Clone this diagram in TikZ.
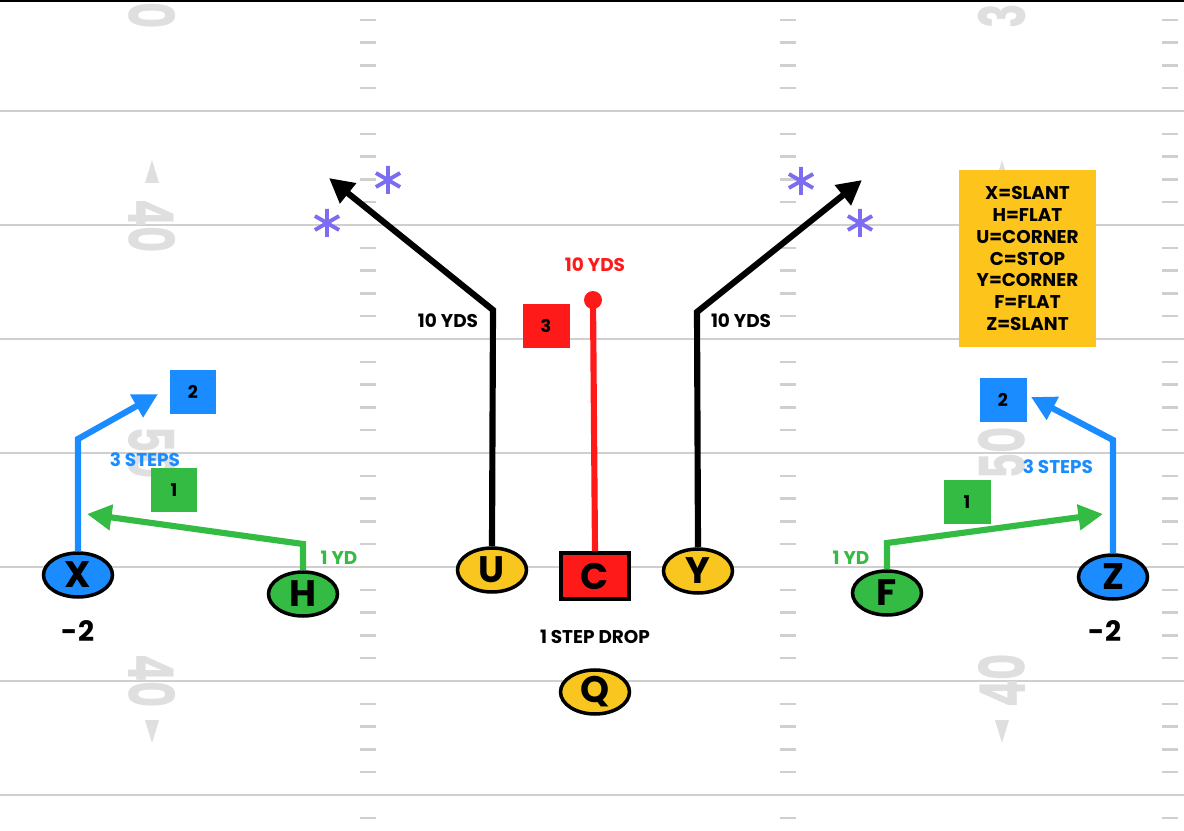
\documentclass[tikz,border=0pt]{standalone}
\usepackage{fontspec}
\setmainfont{Poppins}
\usetikzlibrary{shapes.geometric,arrows.meta,calc}
\definecolor{fieldgray}{HTML}{CFCFCF}
\definecolor{numgray}{HTML}{DFDFDF}
\definecolor{playblue}{HTML}{1A8CFF}
\definecolor{playgreen}{HTML}{33BB44}
\definecolor{playyellow}{HTML}{F8C61E}
\definecolor{playred}{HTML}{FF1A1A}
\definecolor{starpurple}{HTML}{7B6CF0}
\definecolor{keyyellow}{HTML}{FDC41C}
\newcommand{\yardline}[1]{\draw[fieldgray, line width=1.2pt] (0,#1) -- (1184,#1);}
\newcommand{\hashcol}[1]{\foreach \j in {-4,...,31}{\pgfmathtruncatemacro{\m}{mod(\j+5,5)}\ifnum\m=0\else\draw[fieldgray, line width=1.3pt] (#1-8,111+22.8*\j) -- (#1+8,111+22.8*\j);\fi}}
\newcommand{\yardnum}[4]{\node[numgray, rotate=#4, inner sep=0, font=\fontsize{36}{36}\selectfont\bfseries] at (#1,#2) {\scalebox{0.64}[1]{#3}};}
\newcommand{\uparr}[2]{\fill[numgray] (#1,#2) -- (#1-7,#2+23) -- (#1+7,#2+23) -- cycle;}
\newcommand{\downarr}[2]{\fill[numgray] (#1,#2+23) -- (#1-7,#2) -- (#1+7,#2) -- cycle;}
\tikzset{
  player/.style={ellipse, draw=black, line width=2pt, minimum width=1.38cm, minimum height=0.88cm, inner sep=0pt, font=\fontsize{21}{21}\selectfont\bfseries},
  snapbox/.style={rectangle, draw=black, line width=2.2pt, fill=playred, minimum width=1.36cm, minimum height=0.92cm, inner sep=0pt, font=\fontsize{21}{21}\selectfont\bfseries},
  numbox/.style={rectangle, minimum width=0.94cm, minimum height=0.9cm, inner sep=0pt, font=\fontsize{10}{10}\selectfont\bfseries},
  lbl/.style={inner sep=1pt, font=\fontsize{10.5}{12}\selectfont\bfseries},
  route/.style={line width=3.5pt},
  tip/.style={-{Triangle[length=14pt,width=14pt]}},
  burst/.pic={\draw[starpurple, line width=2.2pt] (0,-14) -- (0,14) (-12.1,-7) -- (12.1,7) (-12.1,7) -- (12.1,-7);}
}
\begin{document}
\begin{tikzpicture}[x=0.02cm, y=-0.02cm]
  \clip (0,0) rectangle (1184,831);
  \fill[white] (0,0) rectangle (1184,831);
  % yard lines
  \yardline{111}
  \yardline{225}
  \yardline{339}
  \yardline{453}
  \yardline{567}
  \yardline{681}
  \yardline{795}
  % hash marks
  \hashcol{368}
  \hashcol{788}
  \hashcol{1170}
  \draw[black, line width=2.4pt] (0,0) -- (1184,0);
  % numbers, left side
  \yardnum{152}{16}{0}{-90}
  \yardnum{152}{226}{40}{-90}
  \uparr{152}{160}
  \yardnum{152}{453}{50}{-90}
  \yardnum{152}{681}{40}{-90}
  \downarr{152}{720}
  % numbers, right side
  \yardnum{1002}{16}{3}{90}
  \yardnum{1002}{226}{40}{90}
  \uparr{1002}{160}
  \yardnum{1002}{453}{50}{90}
  \yardnum{1002}{681}{40}{90}
  \downarr{1002}{720}

  % players
  \node[player, fill=playblue] (X) at (78,575) {X};
  \node[player, fill=playgreen] (H) at (303,594) {H};
  \node[player, fill=playyellow] (U) at (492,570) {U};
  \node[snapbox] (C) at (595,576) {C};
  \node[player, fill=playyellow] (Y) at (698,571) {Y};
  \node[player, fill=playgreen] (F) at (887,593) {F};
  \node[player, fill=playblue] (Z) at (1113,577) {Z};
  \node[player, fill=playyellow] (Q) at (595,692) {Q};

  % route points
  \coordinate (xbend) at (78,439);
  \coordinate (xtip) at (158,394);
  \coordinate (hbend) at (303,544);
  \coordinate (htip) at (87,514);
  \coordinate (ubend) at (493,310);
  \coordinate (utip) at (329,178);
  \coordinate (ybend) at (697,312);
  \coordinate (ytip) at (862,180);
  \coordinate (fbend) at (887,543);
  \coordinate (ftip) at (1103,514);
  \coordinate (zbend) at (1113,440);
  \coordinate (ztip) at (1031,397);

  % routes
  \draw[route, playblue, tip] (X.north) -- (xbend) -- (xtip);
  \draw[route, playgreen, tip] (H.north) -- (hbend) -- (htip);
  \draw[route, black, tip] (U.north) -- (ubend) -- (utip);
  \node[circle, fill=playred, minimum size=0.36cm, inner sep=0pt] (cdot) at (593,300) {};
  \draw[route, playred] (C.north) -- (cdot.center);
  \draw[route, black, tip] (Y.north) -- (ybend) -- (ytip);
  \draw[route, playgreen, tip] (F.north) -- (fbend) -- (ftip);
  \draw[route, playblue, tip] (Z.north) -- (zbend) -- (ztip);

  % read order
  \node[numbox, fill=playblue] (xtwo) at (193,392) {2};
  \node[numbox, fill=playgreen] (hone) at (174,490) {1};
  \node[numbox, fill=playred] (cthree) at (546,326) {3};
  \node[numbox, fill=playgreen] (fone) at (967,502) {1};
  \node[numbox, fill=playblue] (ztwo) at (1003,400) {2};

  % labels
  \node[lbl, playblue] (xsteps) at (145,460) {3 STEPS};
  \node[lbl, playblue] (zsteps) at (1058,467) {3 STEPS};
  \node[lbl, playgreen] (hyd) at (339,558) {1 YD};
  \node[lbl, playgreen] (fyd) at (851,558) {1 YD};
  \node[lbl] (uyds) at (448,321) {10 YDS};
  \node[lbl] (yyds) at (741,321) {10 YDS};
  \node[lbl, playred] (cyds) at (595,265) {10 YDS};
  \node[lbl] (qdrop) at (595,637) {1 STEP DROP};
  \node[inner sep=1pt, font=\fontsize{16}{16}\selectfont\bfseries] (xsplit) at (78,631) {-2};
  \node[inner sep=1pt, font=\fontsize{16}{16}\selectfont\bfseries] (zsplit) at (1105,631) {-2};

  % defenders
  \pic at (388,180) {burst};
  \pic at (327,223) {burst};
  \pic at (801,181) {burst};
  \pic at (860,223) {burst};

  % key
  \node[fill=keyyellow, minimum width=2.74cm, minimum height=3.54cm, align=center, inner sep=0pt,
        font=\fontsize{10.5}{12.4}\selectfont\bfseries] (key) at (1027.5,258.5)
        {X=SLANT\\H=FLAT\\U=CORNER\\C=STOP\\Y=CORNER\\F=FLAT\\Z=SLANT};
\end{tikzpicture}
\end{document}
